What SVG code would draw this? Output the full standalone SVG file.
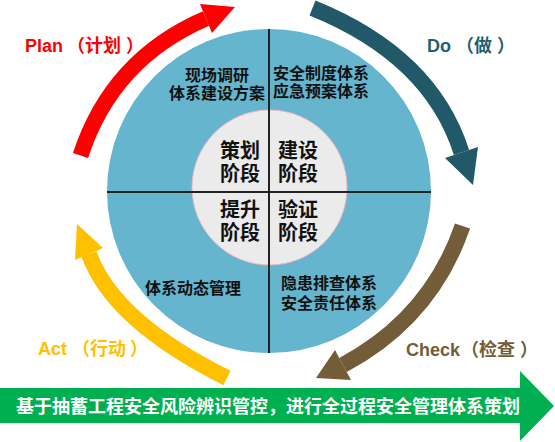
<svg xmlns="http://www.w3.org/2000/svg" width="555" height="442" viewBox="0 0 555 442">
<style>
text{font-family:"Liberation Sans","Noto Sans CJK SC",sans-serif;font-weight:bold}
.q{font-size:16px;fill:#111}
.c{font-size:20px;fill:#111;text-anchor:middle}
.lbl{font-size:18px}
.ban{font-size:18px;fill:#fff}
.arc{fill:none;stroke-width:16;stroke-linecap:butt}
.div{stroke:#222;stroke-width:2}
</style>
<rect width="555" height="442" fill="#fff"/>
<g id="wheel">
<circle cx="269" cy="191" r="162" fill="#64b5cd"/>
<circle cx="269.5" cy="187.5" r="77.5" fill="#ebebeb" stroke="#f2b8c2" stroke-width="1"/>
<line class="div" x1="107" y1="192" x2="431" y2="192"/>
<line class="div" x1="269" y1="29" x2="269" y2="353"/>
</g>
<g id="q-plan"><text class="q" text-anchor="middle"><tspan x="217" y="81">现场调研</tspan><tspan x="217" y="99">体系建设方案</tspan></text></g>
<g id="q-do"><text class="q"><tspan x="273" y="79">安全制度体系</tspan><tspan x="273" y="97">应急预案体系</tspan></text></g>
<g id="q-act"><text class="q" x="145" y="294">体系动态管理</text></g>
<g id="q-check"><text class="q"><tspan x="281" y="289">隐患排查体系</tspan><tspan x="281" y="309">安全责任体系</tspan></text></g>
<g id="stage-plan"><text class="c"><tspan x="240" y="158">策划</tspan><tspan x="240" y="181">阶段</tspan></text></g>
<g id="stage-do"><text class="c"><tspan x="298" y="158">建设</tspan><tspan x="298" y="181">阶段</tspan></text></g>
<g id="stage-act"><text class="c"><tspan x="240" y="217">提升</tspan><tspan x="240" y="240">阶段</tspan></text></g>
<g id="stage-check"><text class="c"><tspan x="298" y="217">验证</tspan><tspan x="298" y="240">阶段</tspan></text></g>
<g id="connectors">
<path class="arc" stroke="#ff0000" d="M80.5,155.5 Q112,59 206,18.5"/>
<polygon fill="#ff0000" points="200,4 235,7 212,33"/>
<path class="arc" stroke="#215968" d="M312.5,8 Q431,56 461.5,152.5"/>
<polygon fill="#215968" points="445,158 478,147 473,185"/>
<path class="arc" stroke="#735c38" d="M462.5,226 Q431,318 343,365"/>
<polygon fill="#735c38" points="335,350 351,380 316,378"/>
<path class="arc" stroke="#ffc000" d="M227,378 Q113,321 89,254"/>
<polygon fill="#ffc000" points="75,260 103,248 77,224"/>
</g>
<g id="label-plan"><text class="lbl" fill="#ff0000" x="25" y="52">Plan<tspan x="67">（计划</tspan><tspan x="126">）</tspan></text></g>
<g id="label-do"><text class="lbl" fill="#1f5f6e" x="427" y="52">Do<tspan x="456">（做</tspan><tspan x="497">）</tspan></text></g>
<g id="label-act"><text class="lbl" fill="#ffc000" x="38" y="355">Act<tspan x="72">（行动</tspan><tspan x="130">）</tspan></text></g>
<g id="label-check"><text class="lbl" fill="#735c38" x="406" y="356">Check<tspan x="461">（</tspan><tspan x="479">检查</tspan><tspan x="520">）</tspan></text></g>
<g id="banner">
<path d="M0,388 H520 V371 L554,406 L520,441 V423 H0 Z" fill="#00b050"/>
<text class="ban" x="16" y="413">基于抽蓄工程安全风险辨识管控，进行全过程安全管理体系策划</text>
</g>
</svg>
